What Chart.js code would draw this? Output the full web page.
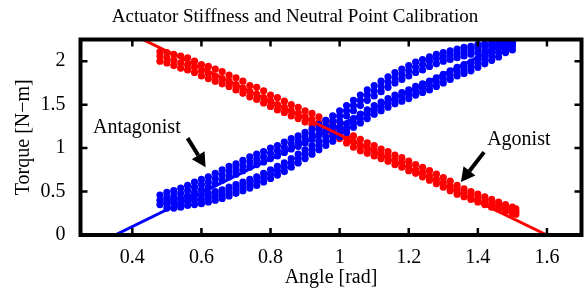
<!DOCTYPE html>
<html>
<head>
<meta charset="utf-8">
<script src="https://cdn.jsdelivr.net/npm/chart.js@4.4.1/dist/chart.umd.min.js"></script>
<style>
  html, body { margin: 0; padding: 0; background: #fff; }
</style>
</head>
<body>
<canvas id="chart" width="588" height="292"></canvas>
<script>
// Agonist (red) measured band: angle [rad] and torque band (top / middle / bottom)
const agonistAngle = [
  0.48,0.50,0.52,0.54,0.56,0.58,0.60,0.62,0.64,0.66,
  0.68,0.70,0.72,0.74,0.76,0.78,0.80,0.82,0.84,0.86,
  0.88,0.90,0.92,0.94,0.96,0.98,1.00,1.02,1.04,1.06,
  1.08,1.10,1.12,1.14,1.16,1.18,1.20,1.22,1.24,1.26,
  1.28,1.30,1.32,1.34,1.36,1.38,1.40,1.42,1.44,1.46,
  1.48,1.50,1.51
];
const agonistTorqueHi = [
  2.11,2.10,2.08,2.06,2.04,2.00,1.96,1.94,1.91,1.88,
  1.84,1.81,1.77,1.72,1.70,1.66,1.61,1.58,1.54,1.50,
  1.47,1.43,1.40,1.36,1.32,1.28,1.24,1.19,1.14,1.10,
  1.06,1.03,0.99,0.96,0.92,0.89,0.85,0.81,0.78,0.74,
  0.70,0.66,0.62,0.57,0.53,0.50,0.47,0.44,0.41,0.38,
  0.35,0.32,0.30
];
const agonistTorqueMid = [
  2.06,2.04,2.01,1.98,1.96,1.93,1.89,1.86,1.83,1.80,
  1.77,1.73,1.69,1.65,1.62,1.58,1.54,1.50,1.47,1.43,
  1.40,1.36,1.33,1.29,1.25,1.21,1.17,1.12,1.07,1.03,
  1.00,0.97,0.93,0.90,0.86,0.83,0.79,0.75,0.72,0.68,
  0.64,0.60,0.56,0.52,0.48,0.45,0.42,0.39,0.36,0.34,
  0.31,0.28,0.27
];
const agonistTorqueLo = [
  2.00,1.98,1.95,1.92,1.90,1.87,1.83,1.80,1.77,1.74,
  1.71,1.67,1.63,1.59,1.56,1.52,1.48,1.44,1.41,1.37,
  1.34,1.30,1.27,1.23,1.19,1.15,1.11,1.06,1.01,0.97,
  0.94,0.91,0.88,0.85,0.81,0.78,0.74,0.71,0.67,0.63,
  0.59,0.55,0.51,0.47,0.44,0.41,0.38,0.35,0.32,0.30,
  0.27,0.25,0.24
];

// Antagonist (blue) upper branch of the hysteresis loop
const antagonistUpAngle = [
  0.48,0.50,0.52,0.54,0.56,0.58,0.60,0.62,0.64,0.66,
  0.68,0.70,0.72,0.74,0.76,0.78,0.80,0.82,0.84,0.86,
  0.88,0.90,0.92,0.94,0.96,0.98,1.00,1.02,1.04,1.06,
  1.08,1.10,1.12,1.14,1.16,1.18,1.20,1.22,1.24,1.26,
  1.28,1.30,1.32,1.34,1.36,1.38,1.40,1.42,1.44,1.46,
  1.48,1.50
];
const antagonistUpHi = [
  0.46,0.49,0.51,0.54,0.57,0.61,0.64,0.67,0.71,0.75,
  0.79,0.82,0.86,0.90,0.93,0.96,1.00,1.03,1.07,1.11,
  1.14,1.18,1.22,1.27,1.32,1.37,1.43,1.49,1.55,1.61,
  1.67,1.72,1.77,1.82,1.87,1.91,1.95,1.99,2.02,2.05,
  2.08,2.10,2.12,2.14,2.16,2.17,2.19,2.20,2.21,2.22,
  2.23,2.24
];
const antagonistUpMid = [
  0.40,0.43,0.45,0.48,0.51,0.55,0.58,0.61,0.65,0.69,
  0.73,0.76,0.80,0.84,0.87,0.90,0.94,0.97,1.01,1.05,
  1.08,1.12,1.16,1.21,1.26,1.31,1.37,1.43,1.49,1.55,
  1.61,1.66,1.71,1.76,1.81,1.85,1.89,1.93,1.96,2.00,
  2.03,2.05,2.07,2.09,2.11,2.13,2.15,2.17,2.18,2.19,
  2.21,2.22
];
const antagonistUpLo = [
  0.35,0.37,0.39,0.42,0.45,0.49,0.52,0.55,0.59,0.63,
  0.67,0.70,0.74,0.78,0.81,0.84,0.88,0.91,0.95,0.99,
  1.02,1.06,1.10,1.15,1.20,1.25,1.31,1.37,1.43,1.49,
  1.55,1.60,1.65,1.70,1.75,1.79,1.83,1.87,1.90,1.94,
  1.97,2.00,2.02,2.04,2.06,2.08,2.10,2.12,2.14,2.16,
  2.18,2.20
];

// Antagonist (blue) lower branch of the hysteresis loop
const antagonistDownAngle = [
  0.50,0.52,0.54,0.56,0.58,0.60,0.62,0.64,0.66,0.68,
  0.70,0.72,0.74,0.76,0.78,0.80,0.82,0.84,0.86,0.88,
  0.90,0.92,0.94,0.96,0.98,1.00,1.02,1.04,1.06,1.08,
  1.10,1.12,1.14,1.16,1.18,1.20,1.22,1.24,1.26,1.28,
  1.30,1.32,1.34,1.36,1.38,1.40,1.42,1.44,1.46,1.48,
  1.50
];
const antagonistDownHi = [
  0.41,0.41,0.42,0.44,0.45,0.46,0.48,0.50,0.52,0.55,
  0.58,0.61,0.64,0.67,0.71,0.75,0.79,0.83,0.88,0.93,
  0.98,1.03,1.08,1.13,1.18,1.23,1.28,1.34,1.39,1.44,
  1.49,1.53,1.57,1.61,1.64,1.67,1.71,1.74,1.77,1.81,
  1.85,1.89,1.93,1.96,1.99,2.03,2.07,2.11,2.15,2.18,
  2.21
];
const antagonistDownMid = [
  0.36,0.36,0.37,0.39,0.40,0.41,0.43,0.45,0.47,0.50,
  0.53,0.56,0.59,0.62,0.66,0.70,0.74,0.78,0.83,0.88,
  0.93,0.98,1.03,1.08,1.13,1.18,1.23,1.29,1.34,1.39,
  1.44,1.48,1.52,1.56,1.59,1.62,1.66,1.69,1.72,1.76,
  1.80,1.84,1.88,1.91,1.94,1.98,2.02,2.06,2.10,2.14,
  2.17
];
const antagonistDownLo = [
  0.31,0.31,0.32,0.34,0.35,0.36,0.38,0.40,0.42,0.45,
  0.48,0.51,0.54,0.57,0.61,0.65,0.69,0.73,0.78,0.83,
  0.88,0.93,0.98,1.03,1.08,1.13,1.18,1.24,1.29,1.34,
  1.39,1.43,1.47,1.51,1.54,1.57,1.61,1.64,1.67,1.71,
  1.75,1.79,1.83,1.86,1.89,1.93,1.97,2.01,2.05,2.10,
  2.13
];

// Fitted stiffness lines (end points)
const agonistFitAngle = [0.43, 1.60];
const agonistFitTorque = [2.25, 0];
const antagonistFitAngle = [0.35, 1.50];
const antagonistFitTorque = [0, 2.24];

// Axes
const angleTicks = [0.4, 0.6, 0.8, 1.0, 1.2, 1.4, 1.6];
const torqueTicks = [0, 0.5, 1, 1.5, 2];

const SERIF = '"Liberation Serif", "Times New Roman", serif';

// helpers to turn the parallel arrays into point lists
const band = (xs, ...rows) => rows.flatMap(r => xs.map((x, i) => ({ x: x, y: r[i] })));
const pairs = (xs, ys) => xs.map((x, i) => ({ x: x, y: ys[i] }));

// frame, inward ticks and arrow annotations (MATLAB look)
const decorPlugin = {
  id: 'decor',
  afterDatasetsDraw(chart) {
    const { ctx, chartArea: a, scales: { x, y } } = chart;
    ctx.save();
    ctx.strokeStyle = '#000';
    ctx.lineWidth = 4;
    ctx.strokeRect(a.left, a.top, a.right - a.left, a.bottom - a.top);

    ctx.lineWidth = 2.5;
    ctx.beginPath();
    angleTicks.forEach(v => {
      const px = x.getPixelForValue(v);
      ctx.moveTo(px, a.bottom); ctx.lineTo(px, a.bottom - 7);
      ctx.moveTo(px, a.top); ctx.lineTo(px, a.top + 7);
    });
    torqueTicks.forEach(v => {
      const py = y.getPixelForValue(v);
      ctx.moveTo(a.left, py); ctx.lineTo(a.left + 7, py);
      ctx.moveTo(a.right, py); ctx.lineTo(a.right - 7, py);
    });
    ctx.stroke();

    // annotations
    ctx.fillStyle = '#000';
    ctx.font = '20px ' + SERIF;
    ctx.textBaseline = 'middle';
    ctx.textAlign = 'left';
    ctx.fillText('Antagonist', x.getPixelForValue(0.286), y.getPixelForValue(1.24));
    ctx.fillText('Agonist', x.getPixelForValue(1.427), y.getPixelForValue(1.10));

    const arrow = (x0, y0, x1, y1) => {
      const p0 = [x.getPixelForValue(x0), y.getPixelForValue(y0)];
      const p1 = [x.getPixelForValue(x1), y.getPixelForValue(y1)];
      const ang = Math.atan2(p1[1] - p0[1], p1[0] - p0[0]);
      const hl = 14, hw = 7.5;
      const bx = p1[0] - hl * Math.cos(ang), by = p1[1] - hl * Math.sin(ang);
      ctx.lineWidth = 4;
      ctx.beginPath();
      ctx.moveTo(p0[0], p0[1]);
      ctx.lineTo(bx, by);
      ctx.stroke();
      ctx.beginPath();
      ctx.moveTo(p1[0], p1[1]);
      ctx.lineTo(bx + hw * Math.sin(ang), by - hw * Math.cos(ang));
      ctx.lineTo(bx - hw * Math.sin(ang), by + hw * Math.cos(ang));
      ctx.closePath();
      ctx.fill();
    };
    arrow(0.56, 1.115, 0.612, 0.78);
    arrow(1.418, 0.954, 1.351, 0.61);

    // title
    ctx.font = '19px ' + SERIF;
    ctx.textAlign = 'center';
    ctx.fillText('Actuator Stiffness and Neutral Point Calibration', 295, 17);
    ctx.restore();
  }
};

new Chart(document.getElementById('chart'), {
  type: 'scatter',
  data: {
    datasets: [
      {
        type: 'line',
        label: 'Agonist fit',
        data: pairs(agonistFitAngle, agonistFitTorque),
        borderColor: '#ff0000',
        borderWidth: 3,
        pointRadius: 0,
        order: 1
      },
      {
        type: 'line',
        label: 'Antagonist fit',
        data: pairs(antagonistFitAngle, antagonistFitTorque),
        borderColor: '#0000ff',
        borderWidth: 3,
        pointRadius: 0,
        order: 2
      },
      {
        label: 'Antagonist',
        data: band(antagonistUpAngle, antagonistUpHi, antagonistUpMid, antagonistUpLo)
          .concat(band(antagonistDownAngle, antagonistDownHi, antagonistDownMid, antagonistDownLo)),
        backgroundColor: '#0000ff',
        borderWidth: 0,
        pointRadius: 3.6,
        order: 3
      },
      {
        label: 'Agonist',
        data: band(agonistAngle, agonistTorqueHi, agonistTorqueMid, agonistTorqueLo),
        backgroundColor: '#ff0000',
        borderWidth: 0,
        pointRadius: 3.6,
        order: 4
      }
    ]
  },
  options: {
    responsive: false,
    animation: false,
    devicePixelRatio: 1,
    layout: { padding: { top: 39.5, right: 6.5, left: 0, bottom: 0 } },
    plugins: {
      legend: { display: false },
      tooltip: { enabled: false },
      title: { display: false }
    },
    scales: {
      x: {
        type: 'linear',
        min: 0.25,
        max: 1.7,
        afterBuildTicks: s => { s.ticks = angleTicks.map(v => ({ value: v })); },
        afterFit: s => { s.height = 57; },
        grid: { display: false },
        border: { display: false },
        ticks: {
          color: '#000',
          font: { family: SERIF, size: 20 },
          padding: 3,
          maxRotation: 0,
          callback: v => String(v)
        },
        title: {
          display: true,
          text: 'Angle [rad]',
          color: '#000',
          font: { family: SERIF, size: 20 },
          padding: { top: 0, bottom: 2 }
        }
      },
      y: {
        type: 'linear',
        min: 0,
        max: 2.25,
        afterBuildTicks: s => { s.ticks = torqueTicks.map(v => ({ value: v })); },
        afterFit: s => { s.width = 80.5; },
        grid: { display: false },
        border: { display: false },
        ticks: {
          color: '#000',
          font: { family: SERIF, size: 20 },
          padding: 7,
          callback: v => String(v)
        },
        title: {
          display: true,
          text: 'Torque [N\u2212m]',
          color: '#000',
          font: { family: SERIF, size: 20 },
          padding: { top: 12, bottom: 0 }
        }
      }
    }
  },
  plugins: [decorPlugin]
});
</script>
</body>
</html>
